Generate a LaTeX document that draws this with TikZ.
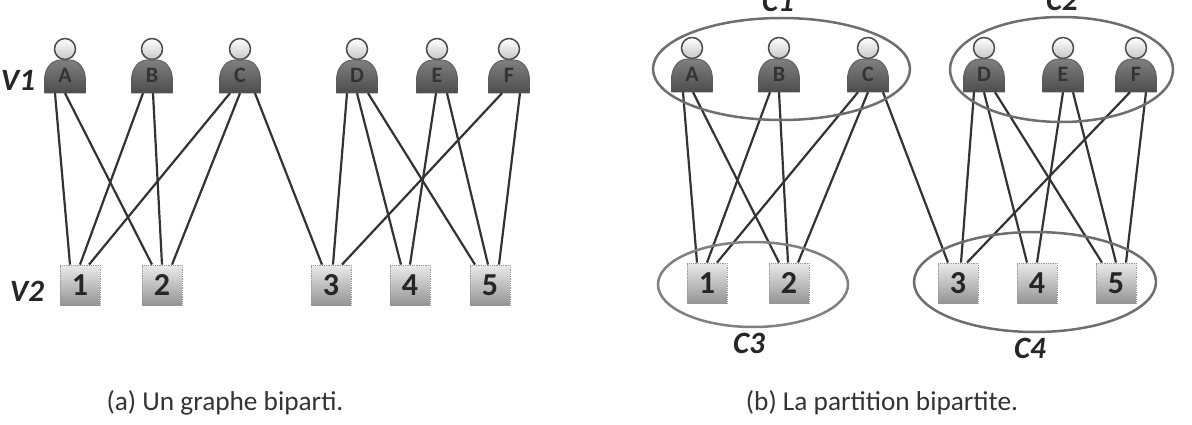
\documentclass[tikz,border=0pt]{standalone}
\usepackage{fontspec}
\setmainfont{Carlito}
\usetikzlibrary{shapes.geometric}
\definecolor{inkline}{HTML}{333333}
\definecolor{ringgrey}{HTML}{6E6E6E}
\tikzset{
  link/.style={draw=inkline,line width=2.2pt},
  ring/.style={ellipse,draw=ringgrey,line width=2.5pt,inner sep=0pt,fill=none},
  bodytag/.style={minimum width=41pt,minimum height=33pt,inner sep=0pt,text=black!80,font=\bfseries\fontsize{22}{22}\selectfont},
  boxtag/.style={minimum width=40pt,minimum height=40pt,inner sep=0pt,text=black!85,font=\bfseries\fontsize{32}{32}\selectfont,
    draw=black!40,densely dotted,line width=.8pt,top color=black!8,bottom color=black!42},
  sidetag/.style={inner sep=0pt,text=black!85,font=\bfseries\itshape\fontsize{31}{31}\selectfont},
  caption/.style={inner sep=0pt,text=black!80,font=\fontsize{27.3}{30}\selectfont},
}
% person icon: round head above a domed torso; the torso node carries the name
\newcommand{\personicon}[3]{%
  \shade[top color=white,bottom color=black!22,draw=black!70,line width=1.5pt] (#2,49) circle (10.5);
  \shade[top color=black!50,bottom color=black!70,draw=black!65,line width=.8pt]
    (#2-20.5,93) -- (#2-20.5,80) .. controls (#2-20.5,68) and (#2-13,60) .. (#2-5,60) -- (#2+5,60)
    .. controls (#2+13,60) and (#2+20.5,68) .. (#2+20.5,80) -- (#2+20.5,93) -- cycle;
  \node[bodytag] (#1) at (#2,76.5) {\raisebox{3pt}{#3}};
}
\begin{document}
\begin{tikzpicture}[x=1pt,y=-1pt]
\useasboundingbox (0,0) rectangle (1192,425);

% left graph: vertex sets
\foreach \n/\x/\t in {la/65/A,lb/152/B,lc/240/C,ld/357/D,le/437/E,lf/509/F}
  {\personicon{\n}{\x}{\t}}
\foreach \n/\x/\t in {l1/80/1,l2/162/2,l3/331/3,l4/410/4,l5/490/5}
  {\node[boxtag] (\n) at (\x,285) {\raisebox{-5pt}{\t}};}

% left graph: edges, each with its own offset along the torso and box sides
\foreach \p/\ps/\q/\qs in {la/-10/l1/-10,la/0/l2/-10,lb/-9/l1/0,lb/1/l2/0,lc/-10/l1/9,lc/0/l2/10,
    lc/15/l3/-9,ld/-10/l3/2,ld/0/l4/-9,ld/11/l5/-15,le/-1/l4/0,le/10/l5/-2,lf/-7/l3/11,lf/11/l5/9}
  {\draw[link] ([xshift=\ps]\p.south) -- ([xshift=\qs]\q.north);}

% right graph: vertex sets
\begin{scope}[yshift=1pt]
\foreach \n/\x/\t in {ra/692/A,rb/779/B,rc/868/C,rd/984/D,re/1063/E,rf/1136/F}
  {\personicon{\n}{\x}{\t}}
\end{scope}
\foreach \n/\x/\t in {r1/707/1,r2/789/2,r3/958/3,r4/1037/4,r5/1116/5}
  {\node[boxtag] (\n) at (\x,283) {\raisebox{-5pt}{\t}};}

% right graph: edges
\foreach \p/\ps/\q/\qs in {ra/-9/r1/-10,ra/1/r2/-10,rb/-9/r1/0,rb/0/r2/-1,rc/-10/r1/10,rc/0/r2/9,
    rc/15/r3/-10,rd/-10/r3/3,rd/0/r4/-10,rd/11/r5/-14,re/0/r4/0,re/10/r5/0,rf/-6/r3/9,rf/10/r5/10}
  {\draw[link] ([xshift=\ps]\p.south) -- ([xshift=\qs]\q.north);}

% clusters of the partition
\node[ring,minimum width=257pt,minimum height=102pt] (c1) at (781.5,69) {};
\node[ring,minimum width=223pt,minimum height=105pt] (c2) at (1061.5,69.5) {};
\node[ring,minimum width=190pt,minimum height=85pt,draw=black!50] (c3) at (753,284.5) {};
\node[ring,minimum width=242pt,minimum height=100pt] (c4) at (1035,282) {};

\node[sidetag] (t1) at (778,1) {C1};
\node[sidetag] (t2) at (1062,0) {C2};
\node[sidetag] (t3) at (749,343) {C3};
\node[sidetag] (t4) at (1030,348) {C4};
\node[sidetag] (v1) at (18,80) {V1};
\node[sidetag] (v2) at (27,291) {V2};

\node[caption] (ca) at (225,403) {(a) Un graphe biparti.};
\node[caption] (cb) at (882,403) {(b) La partition bipartite.};
\end{tikzpicture}
\end{document}
